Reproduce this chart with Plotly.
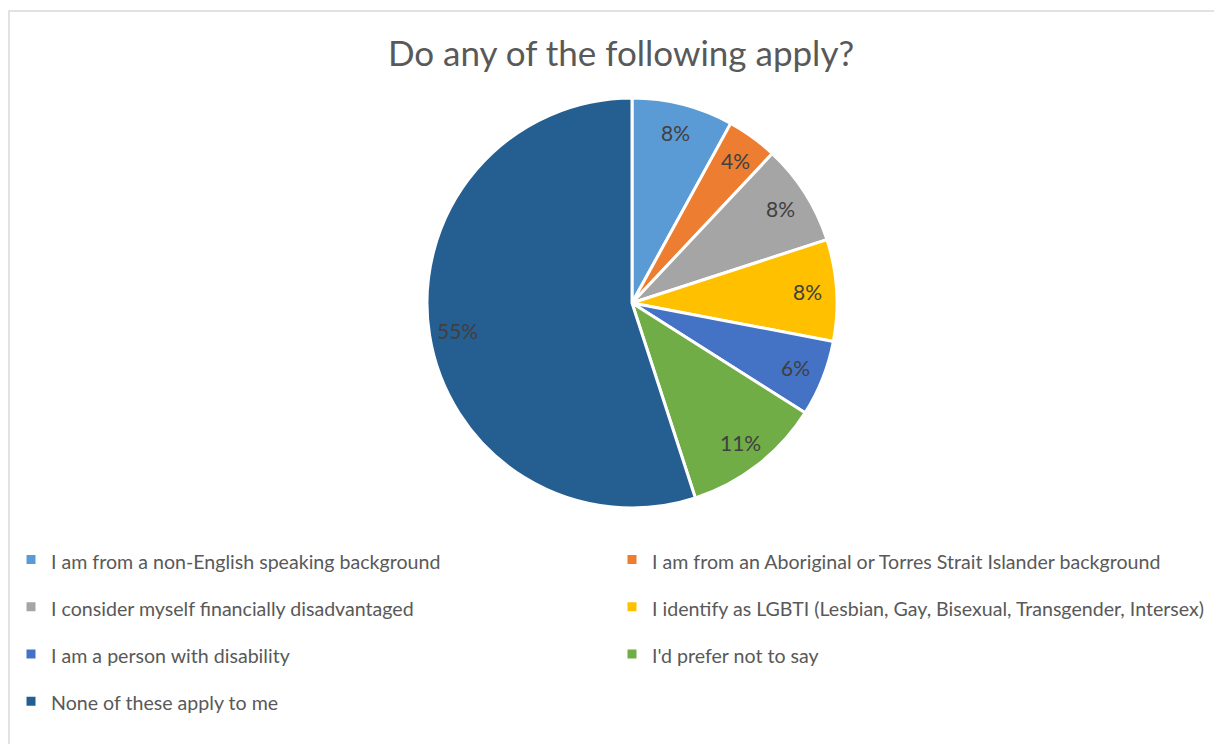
import math
import plotly.graph_objects as go

categories = [
    "I am from a non-English speaking background",
    "I am from an Aboriginal or Torres Strait Islander background",
    "I consider myself financially disadvantaged",
    "I identify as LGBTI (Lesbian, Gay, Bisexual, Transgender, Intersex)",
    "I am a person with disability",
    "I'd prefer not to say",
    "None of these apply to me",
]
values = [8, 4, 8, 8, 6, 11, 55]
colors = ["#5B9BD5", "#ED7D31", "#A5A5A5", "#FFC000", "#4472C4", "#70AD47", "#255E91"]

W, H = 1222, 744
cx, cy, R = 624, 295, 205

legend_labels = ['<span style="font-size:19.6px;baseline-shift:4px">%s</span>' % c for c in categories]

fig = go.Figure(go.Pie(
    labels=legend_labels,
    values=values,
    sort=False,
    direction="clockwise",
    rotation=0,
    marker=dict(colors=colors, line=dict(color="white", width=3)),
    textinfo="none",
    domain=dict(x=[(cx - 300) / W, (cx + 300) / W], y=[(H - cy - R) / H, (H - cy + R) / H]),
    hoverinfo="label+percent",
))

# data labels placed at mid-angle of each slice (derived from values)
total = sum(values)
annotations = []
cum = 0
for v in values:
    mid = (cum + v / 2) / total * 2 * math.pi
    cum += v
    r = 0.86 * R
    px = cx + r * math.sin(mid)
    py = cy - r * math.cos(mid)
    annotations.append(dict(x=px / W, y=1 - py / H, xref="paper", yref="paper",
                            text="%d%%" % round(v / total * 100), showarrow=False,
                            font=dict(size=21, color="#404040", family="Lato"),
                            xanchor="center", yanchor="middle"))

fig.update_layout(
    width=W, height=H,
    margin=dict(l=0, r=0, t=0, b=0, autoexpand=False),
    paper_bgcolor="white",
    font=dict(family="Lato", color="#595959"),
    title=dict(text="Do any of the following apply?", x=613 / W, xanchor="center",
               y=1 - 46 / H, yanchor="middle",
               font=dict(size=35, color="#595959", family="Lato")),
    showlegend=True,
    legend=dict(orientation="h", x=3 / W, xanchor="left", y=1 - 523 / H, yanchor="top",
                entrywidth=556, entrywidthmode="pixels",
                font=dict(size=34, color="#595959", family="Lato"),
                traceorder="normal"),
    annotations=annotations,
    shapes=[dict(type="rect", xref="paper", yref="paper",
                 x0=1 / W, x1=1.01, y0=-0.01, y1=1 - 3 / H,
                 line=dict(color="#D9D9D9", width=1.5), fillcolor="rgba(0,0,0,0)", layer="below")],
)

fig.write_html("out.html")
